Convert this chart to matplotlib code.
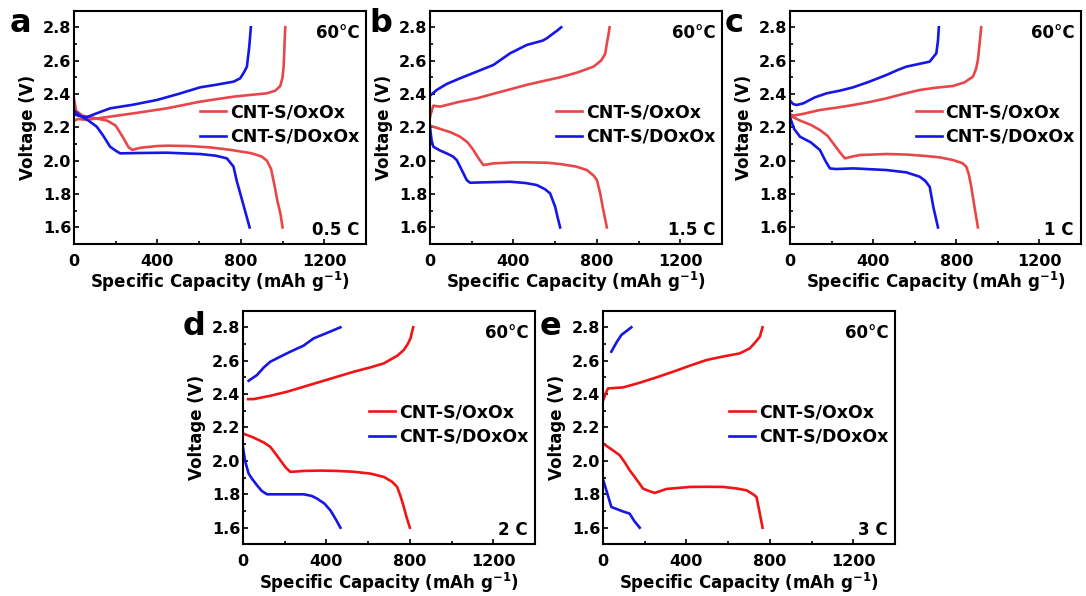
import matplotlib
matplotlib.use("Agg")
import matplotlib.pyplot as plt
from matplotlib.ticker import MultipleLocator

plt.rcParams['font.family'] = ['DejaVu Sans']
plt.rcParams['font.weight'] = 'bold'
plt.rcParams['axes.labelweight'] = 'bold'

# ---------------- data ----------------
labels = ["CNT-S/OxOx", "CNT-S/DOxOx"]
rates = ["0.5 C", "1.5 C", "1 C", "2 C", "3 C"]
panel_letters = ["a", "b", "c", "d", "e"]
temp_label = "60°C"

# panel a (0.5 C)
a_ox_dis_x = [0, 10, 40, 100, 160, 200, 235, 262, 280, 320, 400, 450, 550, 650, 750, 850, 900, 925, 945, 960, 975, 990, 1000]
a_ox_dis_y = [2.37, 2.30, 2.27, 2.255, 2.24, 2.21, 2.14, 2.08, 2.065, 2.078, 2.088, 2.09, 2.088, 2.08, 2.065, 2.045, 2.025, 2.0, 1.95, 1.86, 1.76, 1.68, 1.60]
a_ox_chg_x = [0, 20, 60, 150, 285, 445, 605, 700, 765, 850, 925, 965, 989, 1000, 1005, 1008, 1010, 1013]
a_ox_chg_y = [2.24, 2.25, 2.245, 2.26, 2.284, 2.314, 2.354, 2.372, 2.384, 2.395, 2.404, 2.42, 2.448, 2.5, 2.564, 2.65, 2.72, 2.80]
a_dox_dis_x = [0, 30, 70, 109, 140, 173, 200, 221, 300, 445, 605, 680, 733, 765, 780, 797, 820, 842]
a_dox_dis_y = [2.30, 2.27, 2.24, 2.204, 2.15, 2.084, 2.06, 2.044, 2.046, 2.048, 2.04, 2.03, 2.014, 1.964, 1.88, 1.804, 1.70, 1.60]
a_dox_chg_x = [0, 20, 60, 100, 173, 280, 397, 500, 605, 680, 765, 797, 815, 829, 840, 848]
a_dox_chg_y = [2.28, 2.27, 2.26, 2.28, 2.314, 2.335, 2.364, 2.40, 2.44, 2.455, 2.474, 2.494, 2.53, 2.564, 2.68, 2.80]

# panel b (1.5 C)
b_ox_dis_x = [0, 50, 100, 144, 180, 208, 235, 256, 304, 400, 464, 560, 624, 700, 752, 785, 800, 816, 830, 848]
b_ox_dis_y = [2.21, 2.19, 2.17, 2.144, 2.11, 2.064, 2.01, 1.974, 1.984, 1.99, 1.99, 1.988, 1.98, 1.965, 1.944, 1.91, 1.884, 1.804, 1.71, 1.60]
b_ox_chg_x = [0, 8, 16, 48, 130, 224, 300, 384, 464, 544, 624, 704, 784, 820, 840, 848, 855, 861]
b_ox_chg_y = [2.26, 2.30, 2.33, 2.324, 2.35, 2.374, 2.40, 2.428, 2.455, 2.478, 2.50, 2.528, 2.564, 2.60, 2.64, 2.704, 2.75, 2.80]
b_dox_dis_x = [0, 8, 16, 50, 80, 110, 128, 150, 176, 192, 250, 384, 460, 512, 550, 576, 600, 612, 624]
b_dox_dis_y = [2.20, 2.12, 2.084, 2.06, 2.044, 2.025, 2.004, 1.95, 1.884, 1.868, 1.870, 1.874, 1.866, 1.854, 1.83, 1.804, 1.724, 1.66, 1.60]
b_dox_chg_x = [0, 32, 80, 144, 224, 304, 384, 464, 540, 560, 592, 610, 629]
b_dox_chg_y = [2.39, 2.424, 2.46, 2.494, 2.534, 2.574, 2.644, 2.694, 2.72, 2.734, 2.764, 2.78, 2.80]

# panel c (1 C)
c_ox_dis_x = [0, 50, 100, 144, 180, 208, 240, 264, 300, 336, 464, 560, 656, 720, 784, 830, 848, 860, 872, 888, 904]
c_ox_dis_y = [2.27, 2.24, 2.215, 2.184, 2.15, 2.104, 2.05, 2.014, 2.025, 2.034, 2.04, 2.037, 2.028, 2.02, 2.004, 1.985, 1.964, 1.92, 1.844, 1.72, 1.60]
c_ox_chg_x = [0, 16, 60, 144, 224, 304, 384, 464, 544, 624, 704, 784, 840, 880, 895, 904, 912, 920]
c_ox_chg_y = [2.28, 2.27, 2.28, 2.304, 2.318, 2.334, 2.352, 2.374, 2.40, 2.424, 2.438, 2.448, 2.47, 2.504, 2.55, 2.604, 2.70, 2.80]
c_dox_dis_x = [0, 20, 48, 100, 144, 170, 192, 220, 304, 464, 560, 624, 650, 672, 690, 712]
c_dox_dis_y = [2.26, 2.19, 2.144, 2.11, 2.064, 2.0, 1.954, 1.95, 1.954, 1.944, 1.93, 1.904, 1.88, 1.844, 1.72, 1.60]
c_dox_chg_x = [0, 15, 32, 64, 120, 176, 240, 304, 384, 464, 520, 560, 620, 672, 704, 712, 716]
c_dox_chg_y = [2.36, 2.34, 2.334, 2.344, 2.38, 2.404, 2.42, 2.44, 2.475, 2.514, 2.545, 2.564, 2.58, 2.594, 2.644, 2.72, 2.80]

# panel d (2 C)
d_ox_dis_x = [0, 50, 100, 131, 155, 179, 205, 227, 291, 371, 451, 531, 611, 675, 715, 739, 755, 771, 785, 800]
d_ox_dis_y = [2.164, 2.14, 2.11, 2.084, 2.045, 2.004, 1.96, 1.934, 1.94, 1.942, 1.94, 1.935, 1.924, 1.904, 1.875, 1.844, 1.79, 1.724, 1.66, 1.60]
d_ox_chg_x = [24, 51, 131, 211, 291, 371, 451, 531, 611, 675, 740, 771, 790, 803, 816]
d_ox_chg_y = [2.37, 2.37, 2.39, 2.414, 2.444, 2.474, 2.504, 2.534, 2.56, 2.584, 2.63, 2.664, 2.70, 2.734, 2.80]
d_dox_dis_x = [0, 10, 27, 45, 67, 90, 115, 200, 291, 330, 355, 390, 419, 445, 467]
d_dox_dis_y = [2.08, 2.0, 1.924, 1.89, 1.854, 1.82, 1.80, 1.80, 1.80, 1.79, 1.774, 1.745, 1.704, 1.65, 1.60]
d_dox_chg_x = [27, 67, 100, 131, 180, 227, 290, 339, 400, 467]
d_dox_chg_y = [2.48, 2.514, 2.56, 2.594, 2.625, 2.654, 2.69, 2.734, 2.765, 2.80]

# panel e (3 C)
e_ox_dis_x = [0, 40, 80, 105, 128, 160, 192, 220, 248, 304, 416, 496, 576, 640, 688, 720, 736, 752, 765]
e_ox_dis_y = [2.104, 2.07, 2.034, 1.99, 1.944, 1.89, 1.834, 1.82, 1.808, 1.832, 1.844, 1.845, 1.844, 1.835, 1.824, 1.80, 1.784, 1.684, 1.60]
e_ox_chg_x = [0, 12, 24, 96, 176, 256, 336, 416, 496, 576, 656, 704, 730, 752, 765]
e_ox_chg_y = [2.36, 2.40, 2.434, 2.44, 2.468, 2.50, 2.534, 2.57, 2.604, 2.625, 2.644, 2.674, 2.71, 2.744, 2.80]
e_dox_dis_x = [0, 16, 40, 90, 128, 150, 176]
e_dox_dis_y = [1.89, 1.824, 1.724, 1.70, 1.684, 1.64, 1.60]
e_dox_chg_x = [40, 65, 88, 136]
e_dox_chg_y = [2.654, 2.71, 2.754, 2.80]

panels = [
    (a_ox_dis_x, a_ox_dis_y, a_ox_chg_x, a_ox_chg_y, a_dox_dis_x, a_dox_dis_y, a_dox_chg_x, a_dox_chg_y),
    (b_ox_dis_x, b_ox_dis_y, b_ox_chg_x, b_ox_chg_y, b_dox_dis_x, b_dox_dis_y, b_dox_chg_x, b_dox_chg_y),
    (c_ox_dis_x, c_ox_dis_y, c_ox_chg_x, c_ox_chg_y, c_dox_dis_x, c_dox_dis_y, c_dox_chg_x, c_dox_chg_y),
    (d_ox_dis_x, d_ox_dis_y, d_ox_chg_x, d_ox_chg_y, d_dox_dis_x, d_dox_dis_y, d_dox_chg_x, d_dox_chg_y),
    (e_ox_dis_x, e_ox_dis_y, e_ox_chg_x, e_ox_chg_y, e_dox_dis_x, e_dox_dis_y, e_dox_chg_x, e_dox_chg_y),
]

# ---------------- layout ----------------
W, H = 1086, 596
fig = plt.figure(figsize=(W / 100, H / 100), dpi=100)

# pixel boxes: left, top, right, bottom
boxes = [(74, 10.6, 366, 244.1), (430, 10.6, 722, 244.1), (790, 10.6, 1081, 244.1),
         (243, 310.6, 535, 544.4), (603, 310.6, 895, 544.4)]
letter_off = [-64, -61, -65, -60, -63]
letter_base = [32, 32, 32, 335, 335]
red_top = '#e8474a'
red_bot = '#f01414'
blue = '#1616e6'

for i, (l, t, r, b) in enumerate(boxes):
    ax = fig.add_axes([l / W, (H - b) / H, (r - l) / W, (b - t) / H])
    red = red_top if i < 3 else red_bot
    oxd_x, oxd_y, oxc_x, oxc_y, dd_x, dd_y, dc_x, dc_y = panels[i]
    ax.plot(oxd_x, oxd_y, color=red, lw=1.9, label=labels[0], solid_joinstyle='round')
    ax.plot(oxc_x, oxc_y, color=red, lw=1.9, solid_joinstyle='round')
    ax.plot(dd_x, dd_y, color=blue, lw=1.9, label=labels[1], solid_joinstyle='round')
    ax.plot(dc_x, dc_y, color=blue, lw=1.9, solid_joinstyle='round')

    ax.set_xlim(0, 1400)
    ax.set_ylim(1.5, 2.9)
    ax.set_xticks([0, 400, 800, 1200])
    ax.set_yticks([1.6, 1.8, 2.0, 2.2, 2.4, 2.6, 2.8])
    ax.xaxis.set_minor_locator(MultipleLocator(200))
    ax.yaxis.set_minor_locator(MultipleLocator(0.1))
    ax.tick_params(which='both', direction='in', width=1.2)
    ax.tick_params(which='major', length=3.5)
    ax.tick_params(which='minor', length=2)
    ax.tick_params(axis='x', labelsize=11.5, pad=7)
    ax.tick_params(axis='y', labelsize=11.5, pad=2)
    for s in ax.spines.values():
        s.set_linewidth(1.5)
    ax.set_xlabel('Specific Capacity (mAh g$^{\\mathbf{-1}}$)', fontsize=12, labelpad=1)
    ax.set_ylabel('Voltage (V)', fontsize=12, labelpad=4)

    leg = ax.legend(loc='center left', bbox_to_anchor=(0.432, 1 - 114 / (b - t)),
                    frameon=False, fontsize=12.5, handlelength=1.5, handletextpad=0.2,
                    labelspacing=0.38, borderpad=0, borderaxespad=0)
    for txt in leg.get_texts():
        txt.set_fontweight('bold')

    ax.text(1 - 6 / (r - l), 1 - 22 / (b - t), temp_label, transform=ax.transAxes,
            ha='right', va='center', fontsize=12, fontweight='bold')
    ax.text(1 - 7 / (r - l), 14 / (b - t), rates[i], transform=ax.transAxes,
            ha='right', va='center', fontsize=12, fontweight='bold')

    fig.text((l + letter_off[i]) / W, (H - letter_base[i]) / H, panel_letters[i],
             ha='left', va='baseline', fontsize=23, fontweight='bold')

fig.savefig('out.png', dpi=100)
